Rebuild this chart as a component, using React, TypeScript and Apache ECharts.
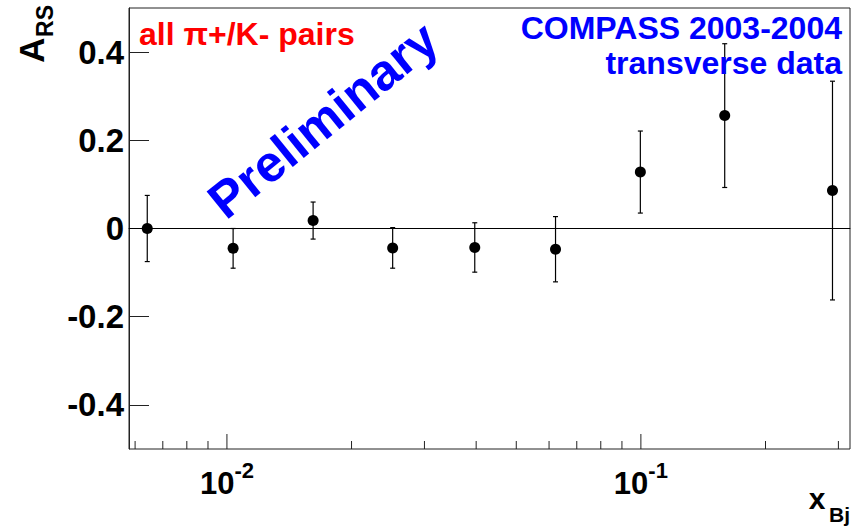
import React, { useEffect, useRef } from "react";
import * as echarts from "echarts";

// ---- data ----
const xValues = [0.00642, 0.01035, 0.01615, 0.02514, 0.03969, 0.0622, 0.0997, 0.1594, 0.2903];
const yValues = [0.0, -0.045, 0.018, -0.044, -0.043, -0.047, 0.128, 0.256, 0.086];
const yErrors = [0.075, 0.045, 0.042, 0.046, 0.056, 0.074, 0.093, 0.163, 0.248];

const xMajorTicks = [0.01, 0.1];
const xMinorTicks = [0.006, 0.007, 0.008, 0.009, 0.02, 0.03, 0.04, 0.05, 0.06, 0.07, 0.08, 0.09, 0.2, 0.3];
const yTickValues = [-0.4, -0.2, 0, 0.2, 0.4];

const X_MIN = 0.0058;
const X_MAX = 0.32;
const Y_MIN = -0.5;
const Y_MAX = 0.5;

const FONT = '"Liberation Sans", Arial, Helvetica, sans-serif';

function tickSeries(values: number[], len: number) {
  return {
    type: "custom",
    silent: true,
    data: values.map((v) => [v, Y_MIN]),
    renderItem: (_p: any, api: any) => {
      const p = api.coord([api.value(0), Y_MIN]);
      return {
        type: "line",
        shape: { x1: p[0], y1: p[1], x2: p[0], y2: p[1] - len },
        style: { stroke: "#222", lineWidth: 1 },
      };
    },
    z: 3,
  };
}

function txt(text: string, x: number, y: number, size: number, color: string, align: string, rotation = 0) {
  return {
    type: "text",
    x,
    y,
    rotation,
    z: 10,
    style: {
      text,
      fill: color,
      font: `bold ${size}px ${FONT}`,
      align,
      textAlign: align,
      verticalAlign: "middle",
      textVerticalAlign: "middle",
    },
  };
}

export default function App() {
  const ref = useRef<HTMLDivElement>(null);

  useEffect(() => {
    document.body.style.margin = "0";
    if (!ref.current) return;
    const chart = echarts.init(ref.current, undefined, { renderer: "svg" });
    const points = xValues.map((x, i) => [x, yValues[i]]);
    const bars = xValues.map((x, i) => [x, yValues[i], yErrors[i]]);

    chart.setOption({
      animation: false,
      backgroundColor: "#ffffff",
      textStyle: { fontFamily: FONT, fontWeight: "bold" },
      grid: {
        left: 129,
        right: 11,
        top: 8,
        bottom: 80,
        show: true,
        borderColor: "#222",
        borderWidth: 1,
        backgroundColor: "transparent",
        containLabel: false,
        outerBoundsMode: "none",
      },
      xAxis: {
        type: "log",
        logBase: 10,
        min: X_MIN,
        max: X_MAX,
        axisLine: { show: true, lineStyle: { color: "#222", width: 1 } },
        axisTick: { show: false },
        splitLine: { show: false },
        axisLabel: {
          margin: 10,
          color: "#000",
          formatter: (v: number) => {
            const l = Math.log10(v);
            const e = Math.round(l);
            if (Math.abs(l - e) > 1e-6) return "";
            return `{b|10}{s|${e}}`;
          },
          rich: {
            b: { fontSize: 31, fontWeight: "bold", fontFamily: FONT, lineHeight: 40, verticalAlign: "bottom", color: "#000" },
            s: { fontSize: 22, fontWeight: "bold", fontFamily: FONT, lineHeight: 16, verticalAlign: "top", color: "#000" },
          },
        },
      },
      yAxis: {
        type: "value",
        min: Y_MIN,
        max: Y_MAX,
        axisLine: { show: true, lineStyle: { color: "#222", width: 1 } },
        axisTick: { show: true, inside: true, length: 20, customValues: yTickValues, lineStyle: { color: "#222", width: 1 } },
        splitLine: { show: false },
        axisLabel: {
          customValues: yTickValues,
          margin: 5,
          fontSize: 33,
          fontWeight: "bold",
          fontFamily: FONT,
          color: "#000",
          padding: [6, 0, 0, 0],
          formatter: (v: number) => String(v),
        },
      },
      series: [
        tickSeries(xMajorTicks, 15),
        tickSeries(xMinorTicks, 8),
        {
          type: "custom",
          silent: true,
          data: bars,
          renderItem: (_p: any, api: any) => {
            const x = api.value(0);
            const y = api.value(1);
            const e = api.value(2);
            const top = api.coord([x, y + e]);
            const bot = api.coord([x, y - e]);
            const st = { stroke: "#000", lineWidth: 1.2 };
            return {
              type: "group",
              children: [
                { type: "line", shape: { x1: top[0], y1: top[1], x2: bot[0], y2: bot[1] }, style: st },
                { type: "line", shape: { x1: top[0] - 2.5, y1: top[1], x2: top[0] + 2.5, y2: top[1] }, style: st },
                { type: "line", shape: { x1: bot[0] - 2.5, y1: bot[1], x2: bot[0] + 2.5, y2: bot[1] }, style: st },
              ],
            };
          },
          z: 4,
        },
        {
          type: "scatter",
          data: points,
          symbol: "circle",
          symbolSize: 11,
          itemStyle: { color: "#000", opacity: 1 },
          z: 5,
          markLine: {
            silent: true,
            symbol: ["none", "none"],
            label: { show: false },
            lineStyle: { color: "#000", width: 1.2, type: "solid", opacity: 1 },
            data: [{ yAxis: 0 }],
          },
        },
      ],
      graphic: [
        txt("all \u03c0+/K- pairs", 139, 34, 32, "#ff0000", "left"),
        txt("COMPASS 2003-2004", 842, 28, 32, "#0000ff", "right"),
        txt("transverse data", 842, 63, 32, "#0000ff", "right"),
        txt("Preliminary", 323, 120, 51, "#0000ff", "center", (39 * Math.PI) / 180),
        txt("A", 31, 50, 35, "#000", "center", Math.PI / 2),
        txt("RS", 45, 21, 23, "#000", "center", Math.PI / 2),
        txt("x", 817, 498, 30, "#000", "center"),
        txt("Bj", 829, 514, 21, "#000", "left"),
      ],
    });
    return () => chart.dispose();
  }, []);

  return <div ref={ref} style={{ width: 861, height: 529, position: "absolute", left: 0, top: 0 }} />;
}
